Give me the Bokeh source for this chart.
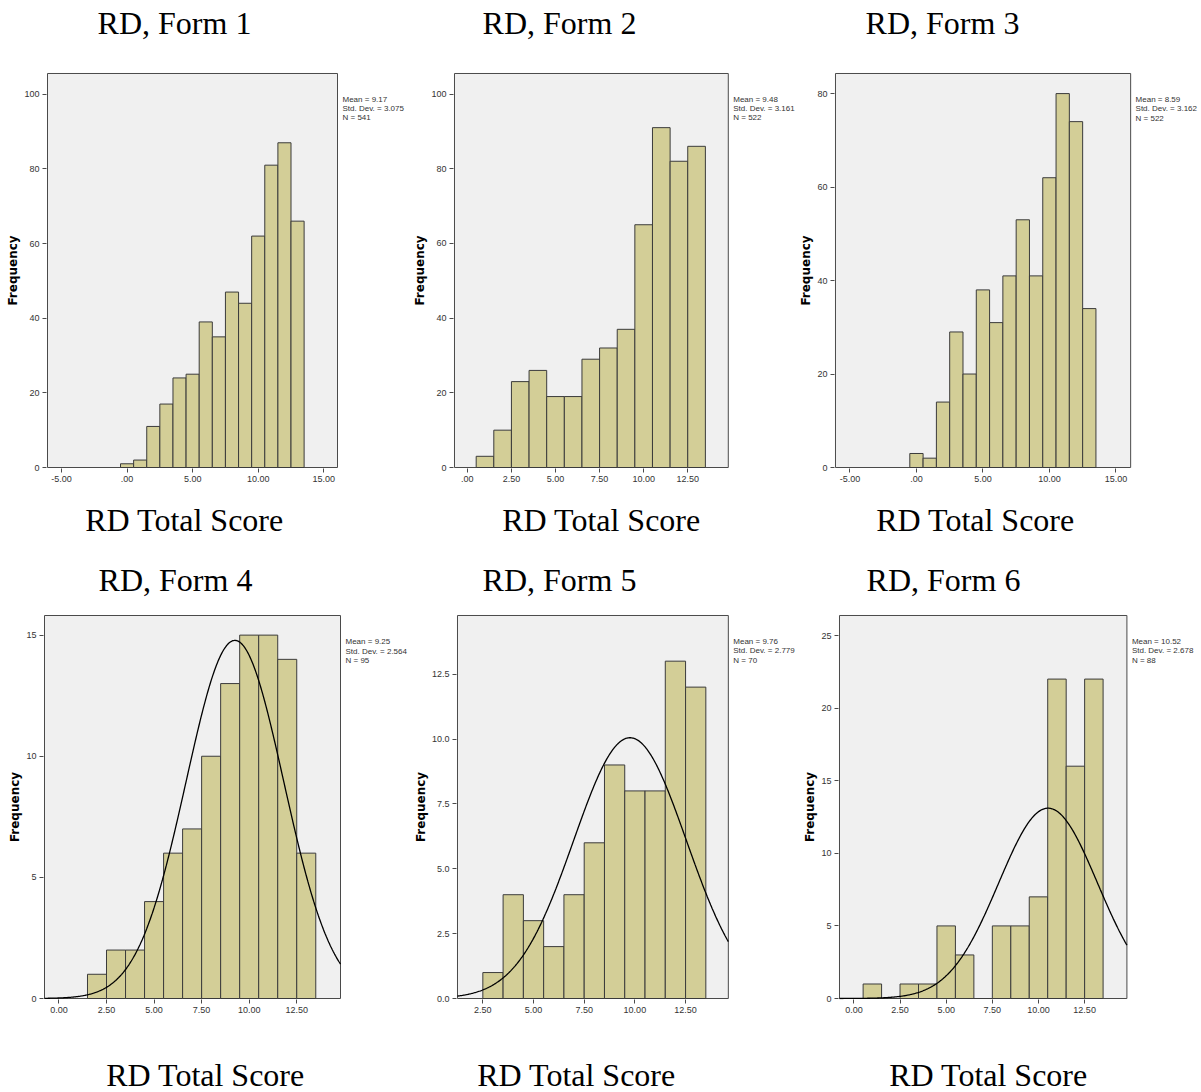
import numpy as np
from bokeh.plotting import figure
from bokeh.layouts import column, row
from bokeh.models import Label, FixedTicker, Range1d, BoxAnnotation
from bokeh.embed import file_html
from bokeh.resources import INLINE

# ---------------- data ----------------
titles = ["RD, Form 1", "RD, Form 2", "RD, Form 3", "RD, Form 4", "RD, Form 5", "RD, Form 6"]
x_title = "RD Total Score"
y_title = "Frequency"

form1_centers = [0, 1, 2, 3, 4, 5, 6, 7, 8, 9, 10, 11, 12, 13]
form1_counts = [1, 2, 11, 17, 24, 25, 39, 35, 47, 44, 62, 81, 87, 66]
form2_centers = [1, 2, 3, 4, 5, 6, 7, 8, 9, 10, 11, 12, 13]
form2_counts = [3, 10, 23, 26, 19, 19, 29, 32, 37, 65, 91, 82, 86]
form3_centers = [0, 1, 2, 3, 4, 5, 6, 7, 8, 9, 10, 11, 12, 13]
form3_counts = [3, 2, 14, 29, 20, 38, 31, 41, 53, 41, 62, 80, 74, 34]
form4_centers = [2, 3, 4, 5, 6, 7, 8, 9, 10, 11, 12, 13]
form4_counts = [1, 2, 2, 4, 6, 7, 10, 13, 15, 15, 14, 6]
form5_centers = [3, 4, 5, 6, 7, 8, 9, 10, 11, 12, 13]
form5_counts = [1, 4, 3, 2, 4, 6, 9, 8, 8, 13, 12]
form6_centers = [1, 2, 3, 4, 5, 6, 7, 8, 9, 10, 11, 12, 13]
form6_counts = [1, 0, 1, 1, 5, 3, 0, 5, 5, 7, 22, 16, 22]

means = [9.17, 9.48, 8.59, 9.25, 9.76, 10.52]
std_devs = [3.075, 3.161, 3.162, 2.564, 2.779, 2.678]
ns = [541, 522, 522, 95, 70, 88]
mean_labels = ["9.17", "9.48", "8.59", "9.25", "9.76", "10.52"]
sd_labels = ["3.075", "3.161", "3.162", "2.564", "2.779", "2.678"]
show_curve = [False, False, False, True, True, True]

xticks_a = [-5, 0, 5, 10, 15]
xlabels_a = ["-5.00", ".00", "5.00", "10.00", "15.00"]
xticks_b = [0, 2.5, 5, 7.5, 10, 12.5]
xlabels_b = [".00", "2.50", "5.00", "7.50", "10.00", "12.50"]
xlabels_c = ["0.00", "2.50", "5.00", "7.50", "10.00", "12.50"]
xticks_d = [2.5, 5, 7.5, 10, 12.5]
xlabels_d = ["2.50", "5.00", "7.50", "10.00", "12.50"]

yticks_1 = [0, 20, 40, 60, 80, 100]
yticks_3 = [0, 20, 40, 60, 80]
yticks_4 = [0, 5, 10, 15]
yticks_5 = [0, 2.5, 5, 7.5, 10, 12.5]
ylabels_5 = ["0.0", "2.5", "5.0", "7.5", "10.0", "12.5"]
yticks_6 = [0, 5, 10, 15, 20, 25]

centers = [form1_centers, form2_centers, form3_centers, form4_centers, form5_centers, form6_centers]
counts = [form1_counts, form2_counts, form3_counts, form4_counts, form5_counts, form6_counts]
xtick_sets = [(xticks_a, xlabels_a), (xticks_b, xlabels_b), (xticks_a, xlabels_a),
              (xticks_b, xlabels_c), (xticks_d, xlabels_d), (xticks_b, xlabels_c)]
ytick_sets = [(yticks_1, None), (yticks_1, None), (yticks_3, None),
              (yticks_4, None), (yticks_5, ylabels_5), (yticks_6, None)]

# visible axis extent of each histogram (data units)
box_x = [(-6.067, 16.045), (-0.73, 14.8), (-6.09, 16.11), (-0.76, 14.8), (1.25, 14.61), (-0.78, 14.79)]
box_y = [(0, 105.56), (0, 105.5), (0, 84.3), (0, 15.81), (0, 14.76), (0, 26.38)]

# ---------------- layout (page pixels, origin at page top-left) ----------------
PAGE_L, PAGE_R = 0, 1200
box_px = [(47, 68, 337, 467), (450, 67, 727, 467), (829, 73, 1129, 471),
          (44, 615, 340, 998), (453, 615, 727, 1000), (837, 615, 1126, 1002)]
col_edges = [[(0, 410), (410, 796), (796, 1200)],
             [(0, 410), (410, 800), (800, 1200)]]
row_edges = [(48, 492), (600, 1025)]
caption_bands = [(0, 48), (492, 600), (1025, 1092)]
title_pos = [(174, 22), (559, 22), (942, 22), (175, 579), (559, 579), (943, 579)]
xlabel_pos = [(184, 519), (601, 519), (975, 519), (205, 1074), (576, 1074), (988, 1074)]

FRAME_BG = "#f0f0f0"
BAR_FILL = "#d3ce97"
EDGE = "#3b3b3b"
TICK_FONT = "Liberation Sans"
SERIF = "Liberation Serif"


def caption_figure(band, items):
    top, bottom = band
    c = figure(width=PAGE_R - PAGE_L, height=bottom - top,
               x_range=Range1d(PAGE_L, PAGE_R), y_range=Range1d(bottom, top),
               x_axis_type=None, y_axis_type=None, min_border=0,
               output_backend="svg", toolbar_location=None, tools="")
    c.outline_line_color = None
    c.background_fill_color = "white"
    c.border_fill_color = "white"
    c.xgrid.visible = False
    c.ygrid.visible = False
    for text, (x, y) in items:
        c.add_layout(Label(x=x, y=y, text=text, text_font=SERIF, text_font_size="32px",
                           text_align="center", text_baseline="middle", text_color="black"))
    return c


def histogram(i):
    L, T, R, B = box_px[i]
    x0, x1 = box_x[i]
    y0, y1 = box_y[i]
    ppx = (R - L) / (x1 - x0)
    ppy = (B - T) / (y1 - y0)
    fig_l, fig_r = col_edges[i // 3][i % 3]
    row_t, row_b = row_edges[i // 3]
    fL, fT, fR, fB = L - 1, T - 1, fig_r, B + 1
    xs = x0 - (L - fL) / ppx
    xe = x1 + (fR - R) / ppx
    ys = y0 - (fB - B) / ppy
    ye = y1 + (T - fT) / ppy

    p = figure(width=fig_r - fig_l, height=row_b - row_t,
               min_border_left=fL - fig_l, min_border_right=0,
               min_border_top=fT - row_t, min_border_bottom=row_b - fB,
               x_range=Range1d(xs, xe), y_range=Range1d(ys, ye),
               output_backend="svg", toolbar_location=None, tools="")
    p.background_fill_color = "white"
    p.border_fill_color = "white"
    p.outline_line_color = None
    p.xgrid.visible = False
    p.ygrid.visible = False

    p.add_layout(BoxAnnotation(left=x0, right=x1, bottom=y0, top=y1, fill_color=FRAME_BG,
                               fill_alpha=1.0, line_color="#4a4a4a", line_alpha=1.0,
                               line_width=1, level="underlay"))

    c = np.array(centers[i], dtype=float)
    p.quad(left=c - 0.5, right=c + 0.5, bottom=0, top=counts[i],
           fill_color=BAR_FILL, line_color=EDGE, line_width=1)

    if show_curve[i]:
        xs_c = np.linspace(x0, x1, 400)
        ys_c = ns[i] * np.exp(-0.5 * ((xs_c - means[i]) / std_devs[i]) ** 2) / (std_devs[i] * np.sqrt(2 * np.pi))
        p.line(xs_c, ys_c, line_color="black", line_width=1.3)

    xt, xl = xtick_sets[i]
    p.xaxis.ticker = FixedTicker(ticks=xt)
    p.xaxis.major_label_overrides = {t: l for t, l in zip(xt, xl)}
    yt, yl = ytick_sets[i]
    p.yaxis.ticker = FixedTicker(ticks=yt)
    if yl is not None:
        p.yaxis.major_label_overrides = {t: l for t, l in zip(yt, yl)}

    for ax in (p.xaxis, p.yaxis):
        ax.axis_line_color = None
        ax.major_tick_line_color = "#4a4a4a"
        ax.minor_tick_line_color = None
        ax.major_tick_in = 0
        ax.major_tick_out = 4
        ax.major_label_text_font = TICK_FONT
        ax.major_label_text_font_size = "9px"
        ax.major_label_text_color = "#333333"
    p.xaxis.major_label_standoff = 3
    p.yaxis.major_label_standoff = 3

    p.yaxis.axis_label = y_title
    p.yaxis.axis_label_text_font = "DejaVu Sans"
    p.yaxis.axis_label_text_font_style = "bold"
    p.yaxis.axis_label_text_font_size = "12px"
    p.yaxis.axis_label_text_color = "black"
    p.yaxis.axis_label_standoff = 1

    stats = ["Mean = " + mean_labels[i], "Std. Dev. = " + sd_labels[i], "N = " + str(ns[i])]
    sx = R + 5
    for k, s in enumerate(stats):
        sy = T + 26 + k * 9.5
        p.add_layout(Label(x=x0 + (sx - L) / ppx, y=y0 + (B - sy) / ppy, text=s,
                           text_font=TICK_FONT, text_font_size="8px",
                           text_align="left", text_baseline="middle", text_color="#333333"))
    return p


plots = [histogram(i) for i in range(6)]
cap1 = caption_figure(caption_bands[0], [(titles[k], title_pos[k]) for k in range(3)])
cap2 = caption_figure(caption_bands[1], [(x_title, xlabel_pos[k]) for k in range(3)] +
                      [(titles[k], title_pos[k]) for k in range(3, 6)])
cap3 = caption_figure(caption_bands[2], [(x_title, xlabel_pos[k]) for k in range(3, 6)])

layout = column(cap1, row(plots[0], plots[1], plots[2]), cap2,
                row(plots[3], plots[4], plots[5]), cap3)

open("out.html", "w").write(file_html(layout, INLINE))
